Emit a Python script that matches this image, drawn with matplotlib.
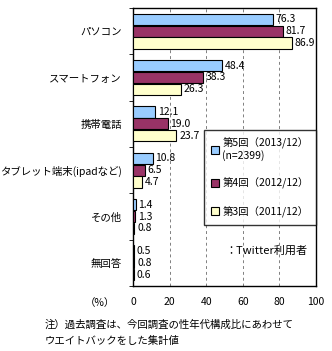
import numpy as np
import matplotlib
matplotlib.use('Agg')
import matplotlib.pyplot as plt

plt.rcParams['font.family'] = ['Noto Sans CJK JP', 'DejaVu Sans']

categories = ['パソコン', 'スマートフォン', '携帯電話', 'タブレット端末(ipadなど)', 'その他', '無回答']
r5 = [76.3, 48.4, 12.1, 10.8, 1.4, 0.5]
r4 = [81.7, 38.3, 19.0, 6.5, 1.3, 0.8]
r3 = [86.9, 26.3, 23.7, 4.7, 0.8, 0.6]
series_labels = ['第5回（2013/12）\n(n=2399)', '第4回（2012/12）', '第3回（2011/12）']
colors = ['#99CCFF', '#993366', '#FFFFCC']

fig = plt.figure(figsize=(3.32, 3.51), dpi=100)
ax = fig.add_axes([133/332, 1 - 286/351, 183/332, 278/351])

n = len(categories)
h = 0.24
fs = 7.5
for k, (vals, c, lab) in enumerate(zip([r5, r4, r3], colors, series_labels)):
    y = np.arange(n) + (k - 1) * 0.255
    ax.barh(y, vals, height=h, color=c, edgecolor='black', linewidth=0.8, label=lab, zorder=3)
    for yy, v in zip(y, vals):
        ax.text(v + 1.5, yy, f'{v:.1f}', va='center', ha='left', fontsize=fs, zorder=4)

ax.set_ylim(n - 0.5, -0.5)
ax.set_xlim(0, 100)
ax.set_yticks(np.arange(n))
ax.set_yticklabels(categories, fontsize=fs)
ax.tick_params(axis='y', length=0, pad=8)
ax.set_yticks(np.arange(n + 1) - 0.5, minor=True)
ax.tick_params(axis='y', which='minor', length=3, direction='out')
ax.set_xticks([0, 20, 40, 60, 80, 100])
ax.set_xticklabels(['0', '20', '40', '60', '80', '100'], fontsize=fs)
ax.tick_params(axis='x', length=0, pad=8)
ax.xaxis.grid(True, linestyle=(0, (3, 3)), color='gray', linewidth=0.7, zorder=0)
for s in ax.spines.values():
    s.set_linewidth(1.0)

leg = ax.legend(loc='upper right', bbox_to_anchor=(316/332, 1 - 130/351), bbox_transform=fig.transFigure,
                fontsize=fs, frameon=True, fancybox=False, edgecolor='black',
                handlelength=0.8, handleheight=0.8, handletextpad=0.3, labelspacing=1.6,
                borderpad=0.7, borderaxespad=0)
leg.get_frame().set_linewidth(1.0)

fig.text(225/332, 1 - 251/351, '：Twitter利用者', fontsize=fs + 0.5, ha='left', va='center')
fig.text(100/332, 1 - 303/351, '（%）', fontsize=fs, ha='center', va='center')
fig.text(45/332, 1 - 325/351, '注）過去調査は、今回調査の性年代構成比にあわせて', fontsize=fs, ha='left', va='center')
fig.text(45/332, 1 - 341/351, 'ウエイトバックをした集計値', fontsize=fs, ha='left', va='center')

fig.savefig('out.png', dpi=100)
